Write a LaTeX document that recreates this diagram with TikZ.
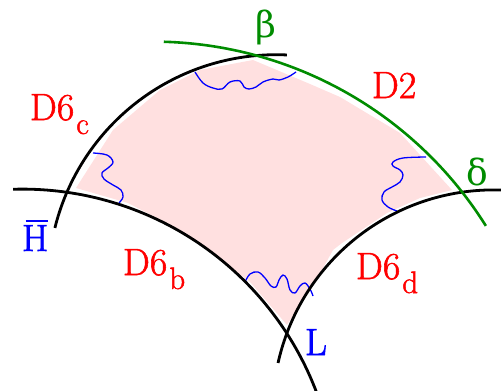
\documentclass[tikz,border=0pt]{standalone}
\usepackage{fontspec}
\newfontfamily\grk{DejaVu Serif}
\newfontfamily\lmb{Latin Modern Roman}[FakeBold=1.5]
\definecolor{pinkfill}{RGB}{255,224,224}
\definecolor{dgreen}{RGB}{0,140,0}
\begin{document}
\begin{tikzpicture}[x=1pt,y=-1pt,
  brane/.style={line width=2.8pt},
  dtwo/.style={line width=2.6pt,dgreen},
  string/.style={line width=1.3pt,blue},
  lbl/.style={inner sep=0pt,outer sep=0pt,font=\lmb\fontsize{38}{38}\selectfont},
  redlbl/.style={lbl,red,anchor=base west},
  bluelbl/.style={lbl,blue,anchor=base west},
  greenlbl/.style={lbl,dgreen,anchor=center,font=\grk\fontsize{36}{36}\selectfont}]
\useasboundingbox (0,0) rectangle (501,391);
\newcommand{\sbs}[1]{\hspace{2pt}\raisebox{-14pt}{\fontsize{31}{31}\selectfont #1}}
% pink region
\fill[pinkfill] (76,188) -- (113,130) -- (160,90) -- (200,70) -- (253,60)
  -- (310,84) -- (340,97) -- (400,133) -- (452,190) -- (420,198) -- (387,213)
  -- (342,243) -- (333,250) -- (317,279) -- (287,325) -- (250,282)
  -- (180,230) -- (128,203) -- cycle;
% strings
\draw[string] plot[smooth,tension=0.6] coordinates {(195,72) (203,83) (213,88) (222,89) (230,82) (240,81) (244,87) (249,89) (256,87) (263,82) (273,79) (279,80) (288,77) (296,72)};
\draw[string] plot[smooth,tension=0.6] coordinates {(93,153) (107,155) (113,162) (108,168) (102,173) (104,179) (113,185) (121,190) (123,197) (119,203)};
\draw[string] plot[smooth,tension=0.6] coordinates {(426,157) (403,158) (393,162) (393,166) (400,170) (403,175) (400,182) (392,187) (384,192) (382,200) (388,207) (397,211)};
\draw[string] plot[smooth,tension=0.6] coordinates {(245,282) (250,274) (258,272) (265,278) (271,286) (276,287) (279,280) (283,275) (287,279) (290,290) (295,293) (300,286) (305,283) (310,289) (313,296)};
% branes
\draw[brane] plot[domain=193.9:272.7,samples=80] ({276.2+228*cos(\x)},{282.7+228*sin(\x)});
\draw[brane] plot[domain=268.3:339.5,samples=80] ({22.4+314.5*cos(\x)},{503.6+314.5*sin(\x)});
\draw[brane] plot[domain=192.5:272,samples=80] ({493.7+220.9*cos(\x)},{410.8+220.9*sin(\x)});
\draw[dtwo] plot[domain=271.6:327.9,samples=80] ({152.8+393.2*cos(\x)},{434.8+393.2*sin(\x)});
% labels
\node[greenlbl] (beta) at (266,27) {β};
\node[redlbl] (d2) at (372,98) {D2};
\node[redlbl] (d6c) at (30,120) {D6\sbs{c}};
\node[greenlbl] (delta) at (477,172) {δ};
\node[bluelbl] (hbar) at (22,251) {\rlap{\hspace{3.5pt}\rule[29pt]{22pt}{2pt}}H};
\node[redlbl] (d6b) at (123,275) {D6\sbs{b}};
\node[redlbl] (d6d) at (356,279) {D6\sbs{d}};
\node[bluelbl] (ll) at (305,355) {L};
\end{tikzpicture}
\end{document}
